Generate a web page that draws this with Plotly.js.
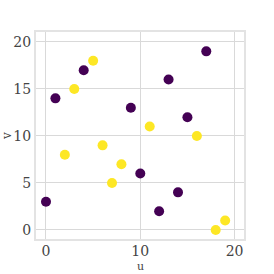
<!DOCTYPE html>
<html><head><meta charset="utf-8">
<script src="https://cdn.plot.ly/plotly-3.0.1.min.js"></script>
<style>html,body{margin:0;padding:0;background:#fff}#c{width:274px;height:274px}</style>
</head><body><div id="c"></div>
<script>
const u = [0,1,2,3,4,5,6,7,8,9,10,11,12,13,14,15,16,17,18,19];
const v = [3,14,8,15,17,18,9,5,7,13,6,11,2,16,4,12,10,19,0,1];
const group = [0,0,1,1,0,1,1,1,1,0,0,1,0,0,0,0,1,0,1,1];
const palette = ['#440154','#fde725'];
const tickVals = [0,5,10,15,20];
const xTicks = [0,10,20];

const fam = '"DejaVu Serif", serif';
const font = {family:fam, size:14, color:'#444'};
Plotly.newPlot('c', [{
  x:u, y:v, mode:'markers', type:'scatter',
  marker:{size:10, color:group.map(g=>palette[g]), line:{width:0}}
}], {
  width:274, height:274,
  margin:{l:36, r:30, t:32, b:35},
  paper_bgcolor:'#fff', plot_bgcolor:'#fff',
  showlegend:false,
  font:font,
  xaxis:{range:[-1.06,21.0], tickvals:xTicks, ticktext:xTicks.map(String), showgrid:true, gridcolor:'#d9d9d9', gridwidth:1,
    zeroline:false, showline:true, mirror:true, linecolor:'#e3e3e3', linewidth:2, ticks:'', ticklen:0,
    ticklabelstandoff:-2,
    tickfont:{family:fam, size:14, color:'#444'}},
  yaxis:{range:[-0.96,21.06], tickvals:tickVals, ticktext:tickVals.map(String), showgrid:true, gridcolor:'#d9d9d9', gridwidth:1,
    zeroline:false, showline:true, mirror:true, linecolor:'#e3e3e3', linewidth:2, ticks:'', ticklen:0,
    tickfont:{family:fam, size:14, color:'#444'},
    title:{text:'v', font:{family:fam, size:12, color:'#444'}, standoff:6}},
  annotations:[{text:'u', xref:'paper', yref:'paper', x:0.5, y:-0.169, yanchor:'bottom', showarrow:false, borderpad:0,
    font:{family:fam, size:11, color:'#444'}}]
}, {staticPlot:true, displayModeBar:false});
</script></body></html>
